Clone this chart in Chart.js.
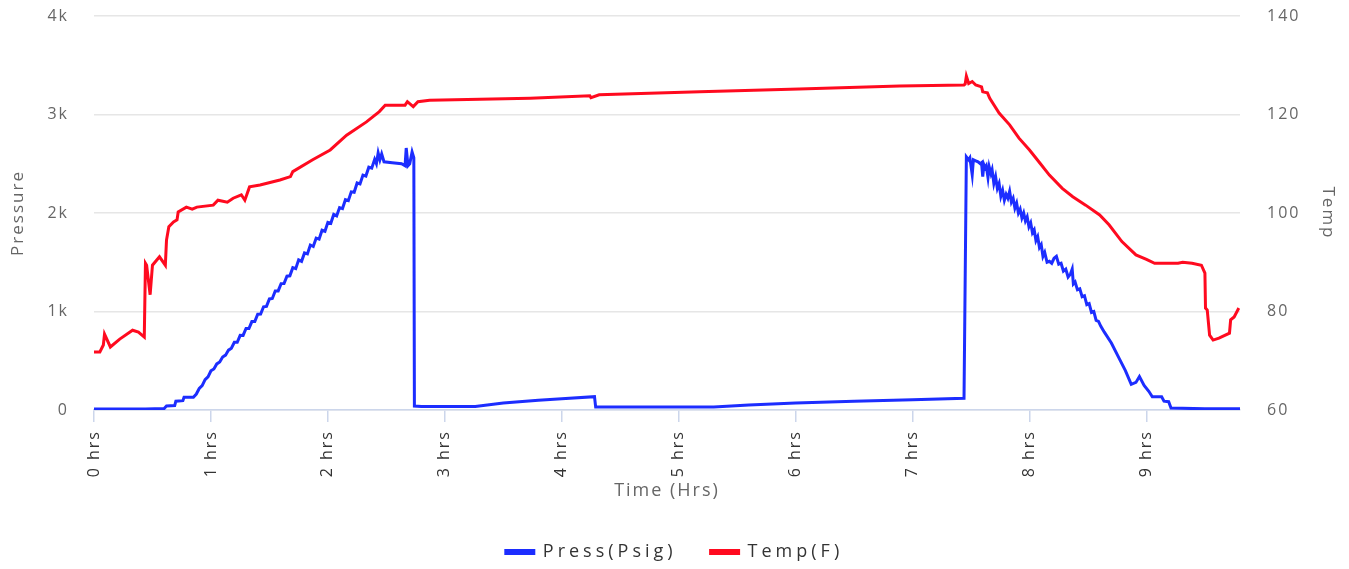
<!DOCTYPE html>
<html>
<head>
  <meta name="viewport" content="width=device-width, initial-scale=1.0">
  <title>Pressure / Temp</title>
  <script src="https://cdn.jsdelivr.net/npm/chart.js"></script>
  <style>
    body {
      margin: 0;
      padding: 0;
      background: #fff;
    }
    #wrap {
      width: 1349px;
      height: 569px;
    }
  </style>
</head>
<body>
  <div id="wrap"><canvas id="myChart"></canvas></div>

  <script>
    // data (hours, psi / deg F)
    const pressHours = [
      0.00, 0.44, 0.60, 0.62, 0.69, 0.70, 0.76, 0.77, 0.84,
      // ramp up (sawtooth)
      0.850, 0.875, 0.900, 0.925, 0.950, 0.975, 1.000, 1.025, 1.050, 1.075, 1.100, 1.125,
      1.150, 1.175, 1.200, 1.225, 1.250, 1.275, 1.300, 1.325, 1.350, 1.375, 1.400, 1.425,
      1.450, 1.475, 1.500, 1.525, 1.550, 1.575, 1.600, 1.625, 1.650, 1.675, 1.700, 1.725,
      1.750, 1.775, 1.800, 1.825, 1.850, 1.875, 1.900, 1.925, 1.950, 1.975, 2.000, 2.025,
      2.050, 2.075, 2.100, 2.125, 2.150, 2.175, 2.200, 2.225, 2.250, 2.275, 2.300, 2.325,
      2.350, 2.375, 2.400, 2.415, 2.430, 2.445, 2.460, 2.480,
      // plateau and drop
      2.55, 2.63, 2.66, 2.67, 2.685, 2.70, 2.72, 2.735, 2.74,
      2.80, 3.26, 3.50, 3.80, 4.00, 4.28, 4.29, 4.60, 5.00, 5.30, 5.60, 6.00, 6.50, 7.00, 7.44,
      // second run down
      7.46, 7.48, 7.49, 7.51, 7.52, 7.54, 7.56, 7.58, 7.59, 7.60, 7.61, 7.62, 7.63, 7.645,
      7.655, 7.67, 7.68, 7.695, 7.71, 7.725, 7.74, 7.755, 7.77, 7.785, 7.80, 7.815, 7.83,
      7.845, 7.86, 7.875, 7.89, 7.905, 7.92, 7.935, 7.95, 7.965, 7.98, 7.995, 8.01, 8.025,
      8.04, 8.055, 8.07, 8.085, 8.10, 8.115, 8.13, 8.15, 8.17, 8.19, 8.21, 8.23, 8.25, 8.27,
      8.29, 8.31, 8.33, 8.35, 8.365, 8.375, 8.39, 8.41, 8.43, 8.45, 8.47, 8.49, 8.51, 8.53,
      8.55, 8.57, 8.59, 8.61, 8.64, 8.70, 8.76, 8.82, 8.87, 8.91, 8.94, 8.98, 9.02, 9.05,
      9.13, 9.15, 9.19, 9.21, 9.50, 9.80
    ];
    const pressValues = [
      10, 10, 15, 40, 45, 90, 95, 130, 130,
      130, 162, 218, 247, 308, 337, 398, 417, 468, 487, 538, 557,
      608, 627, 688, 687, 758, 757, 828, 827, 898, 899, 973, 974,
      1048, 1052, 1128, 1132, 1208, 1209, 1283, 1284, 1358, 1362, 1445, 1435,
      1525, 1510, 1595, 1585, 1675, 1660, 1745, 1735, 1825, 1815, 1905, 1895,
      1985, 1970, 2055, 2045, 2135, 2125, 2215, 2210, 2305, 2295, 2385, 2375,
      2465, 2455, 2545, 2500, 2610, 2540, 2600, 2520,
      2510, 2500, 2480, 2660, 2480, 2500, 2620, 2560, 40,
      35, 35, 70, 100, 115, 135, 30, 30, 30, 30, 50, 70, 90, 105, 120,
      2570, 2540, 2560, 2390, 2540, 2530, 2520, 2500, 2510, 2370, 2490, 2460, 2480, 2360,
      2470, 2400, 2440, 2300, 2370, 2250, 2300, 2170, 2230, 2130, 2190, 2150, 2220,
      2110, 2150, 2050, 2100, 2000, 2040, 1950, 2000, 1920, 1960, 1860, 1900, 1800,
      1830, 1720, 1760, 1650, 1680, 1560, 1600, 1500, 1510, 1490, 1540, 1560, 1480, 1490,
      1410, 1430, 1350, 1380, 1430, 1280, 1300, 1220, 1230, 1150, 1160, 1070, 1080, 990,
      1000, 910, 900, 850, 790, 680, 540, 400, 260, 280, 340, 250, 190, 135,
      135, 90, 84, 20, 12, 12
    ];

    const tempHours = [
      0.00, 0.05, 0.08, 0.09, 0.14, 0.22, 0.33, 0.38, 0.43, 0.44, 0.45, 0.48, 0.50,
      0.56, 0.61, 0.62, 0.64, 0.68, 0.71, 0.72, 0.79, 0.84, 0.88, 1.02, 1.06, 1.14,
      1.19, 1.26, 1.29, 1.33, 1.42, 1.59, 1.68, 1.70, 1.87, 2.02, 2.16, 2.33, 2.44,
      2.49, 2.66, 2.68, 2.73, 2.77, 2.87, 3.30, 3.73, 4.24, 4.25, 4.32, 5.18, 6.03,
      6.89, 7.44, 7.45, 7.46, 7.48, 7.51, 7.54, 7.59, 7.60, 7.64, 7.66, 7.74, 7.83,
      7.91, 8.00, 8.09, 8.17, 8.28, 8.37, 8.48, 8.60, 8.68, 8.79, 8.91, 9.00, 9.07,
      9.27, 9.31, 9.39, 9.47, 9.50, 9.505, 9.52, 9.54, 9.57, 9.62, 9.71, 9.72, 9.75, 9.79
    ];
    const tempValues = [
      71.8, 71.8, 73.2, 75.4, 72.8, 74.4, 76.2, 75.8, 74.8, 89.8, 89.4, 83.4, 89.4,
      91.1, 89.4, 94.5, 97.2, 98.2, 98.6, 100.2, 101.2, 100.8, 101.2, 101.6, 102.6, 102.2,
      103.0, 103.7, 102.6, 105.3, 105.7, 106.7, 107.4, 108.4, 110.8, 112.8, 115.8, 118.5, 120.6,
      121.9, 121.9, 122.6, 121.6, 122.6, 122.9, 123.1, 123.3, 123.8, 123.4, 124.0, 124.6, 125.2,
      125.8, 126.0, 126.2, 127.8, 126.3, 126.7, 126.0, 125.6, 124.6, 124.4, 123.3, 120.3, 117.9,
      115.2, 112.8, 110.1, 107.7, 105.0, 103.3, 101.6, 99.6, 97.6, 94.2, 91.5, 90.6, 89.8,
      89.8, 90.0, 89.8, 89.4, 87.8, 80.7, 80.3, 75.2, 74.2, 74.6, 75.6, 78.3, 78.9, 80.7
    ];

    const pressTicks = [0, 1000, 2000, 3000, 4000];
    const pressTickLabels = ['0', '1k', '2k', '3k', '4k'];

    const FONT = "'Open Sans', 'Noto Sans', sans-serif";

    function pairs(xs, ys) {
      return xs.map((x, i) => ({ x: x, y: ys[i] }));
    }

    // the picture uses spaced-out lettering everywhere
    const spacing = {
      id: 'spacing',
      beforeLayout(c) { c.ctx.letterSpacing = '2px'; },
      beforeDraw(c) { c.ctx.letterSpacing = '2px'; }
    };

    // keep the plot box where the picture has it
    function noVertPad(s) {
      s.paddingTop = 0;
      s.paddingBottom = 0;
    }

    const ctx = document.getElementById('myChart').getContext('2d');
    const chart = new Chart(ctx, {
      type: 'line',
      data: {
        datasets: [{
          label: 'Press(Psig)',
          data: pairs(pressHours, pressValues),
          yAxisID: 'y',
          borderColor: '#1c2dff',
          backgroundColor: '#1c2dff',
          borderWidth: 3,
          pointRadius: 0,
          tension: 0
        }, {
          label: 'Temp(F)',
          data: pairs(tempHours, tempValues),
          yAxisID: 'y1',
          borderColor: '#ff0a1f',
          backgroundColor: '#ff0a1f',
          borderWidth: 3,
          pointRadius: 0,
          tension: 0
        }]
      },
      options: {
        responsive: true,
        maintainAspectRatio: false,
        animation: false,
        layout: { padding: { top: 16, left: 0, right: 0, bottom: 0 } },
        plugins: {
          tooltip: { enabled: false },
          legend: {
            position: 'bottom',
            labels: {
              font: { family: FONT, size: 18 },
              color: '#333',
              boxWidth: 28,
              boxHeight: 3,
              padding: 34
            }
          }
        },
        scales: {
          x: {
            type: 'linear',
            min: 0,
            max: 9.8,
            afterFit: s => { s.height = 99; s.paddingLeft = 0; s.paddingRight = 0; },
            border: { display: true, color: '#ccd6eb', width: 1.5 },
            grid: { drawOnChartArea: false, drawTicks: true, tickLength: 12, color: '#ccd6eb', lineWidth: 1.5 },
            ticks: {
              stepSize: 1,
              includeBounds: false,
              autoSkip: false,
              minRotation: 90,
              maxRotation: 90,
              padding: 8,
              color: '#333',
              font: { family: FONT, size: 16 },
              callback: v => v + ' hrs'
            },
            title: {
              display: true,
              text: 'Time (Hrs)',
              color: '#666',
              font: { family: FONT, size: 18 },
              padding: { top: 0, bottom: 7 }
            }
          },
          y: {
            position: 'left',
            min: 0,
            max: 4000,
            afterFit: s => { s.width = 94; noVertPad(s); },
            afterBuildTicks: s => { s.ticks = pressTicks.map(v => ({ value: v })); },
            border: { display: false },
            grid: { color: '#e6e6e6', lineWidth: 1.5, drawTicks: false },
            ticks: {
              padding: 25,
              color: '#666',
              font: { family: FONT, size: 16 },
              callback: v => pressTickLabels[pressTicks.indexOf(v)]
            },
            title: {
              display: true,
              text: 'Pressure',
              color: '#666',
              font: { family: FONT, size: 17 },
              padding: { top: 8, bottom: 0 }
            }
          },
          y1: {
            position: 'right',
            min: 60,
            max: 140,
            afterFit: s => { s.width = 109; noVertPad(s); },
            border: { display: false },
            grid: { drawOnChartArea: false, drawTicks: false },
            ticks: {
              stepSize: 20,
              padding: 27,
              color: '#666',
              font: { family: FONT, size: 16 }
            },
            title: {
              display: true,
              text: 'Temp',
              color: '#666',
              font: { family: FONT, size: 17 },
              padding: { top: 11, bottom: 0 }
            }
          }
        }
      },
      plugins: [spacing]
    });

    // legend text is spaced wider than the rest
    const lg = chart.legend;
    const baseFit = lg.fit.bind(lg);
    const baseDraw = lg.draw.bind(lg);
    lg.fit = function () {
      this.ctx.letterSpacing = '4px';
      baseFit();
      this.ctx.letterSpacing = '2px';
      this.height = 60;
    };
    lg.draw = function () {
      this.ctx.letterSpacing = '4px';
      baseDraw();
      this.ctx.letterSpacing = '2px';
    };
    chart.update();
  </script>
</body>
</html>
